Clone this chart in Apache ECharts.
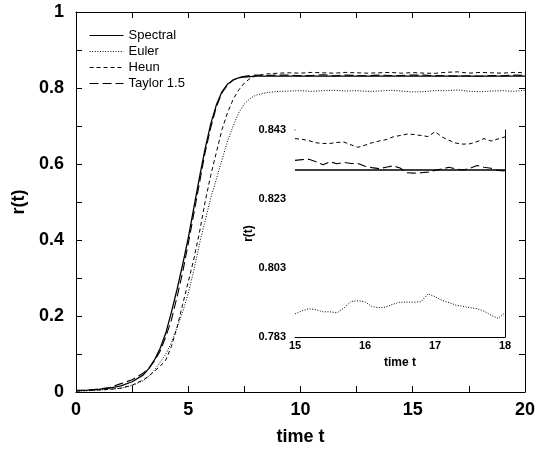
<!DOCTYPE html>
<html>
<head>
<meta charset="utf-8">
<script src="https://cdn.jsdelivr.net/npm/echarts@6/dist/echarts.min.js"></script>
<style>html,body{margin:0;padding:0;background:#fff}#c{width:538px;height:451px}</style>
</head>
<body>
<div id="c"></div>
<script>
// ---- data ----
const tMain = [0,0.5,1,1.5,2,2.5,
  3,3.25,3.5,3.75,4,4.25,4.5,4.75,5,5.25,5.5,5.75,6,6.25,6.5,6.75,7,7.25,7.5,7.75,8,
  8.5,9,9.5,10,10.5,11,11.5,12,12.5,13,13.5,14,14.5,15,15.5,16,16.5,17,17.5,18,18.5,19,19.5,20];
const spectralMain = [0.004,0.005,0.007,0.010,0.016,0.027,
  0.045,0.062,0.085,0.115,0.155,0.21,0.27,0.335,0.405,0.485,0.565,0.64,0.705,0.755,0.79,0.81,0.821,0.827,0.829,0.830,0.831,
  0.8314,0.8314,0.8314,0.8314,0.8314,0.8314,0.8314,0.8314,0.8314,0.8314,0.8314,0.8314,0.8314,0.8314,0.8314,0.8314,0.8314,0.8314,0.8314,0.8314,0.8314,0.8314,0.8314,0.8314];
const eulerMain = [0.002,0.003,0.005,0.007,0.010,0.017,
  0.030,0.042,0.058,0.078,0.100,0.130,0.170,0.210,0.260,0.320,0.390,0.450,0.510,0.560,0.610,0.660,0.700,0.735,0.758,0.772,0.781,
  0.788,0.791,0.792,0.793,0.791,0.793,0.794,0.792,0.793,0.791,0.792,0.794,0.792,0.7897,0.7903,0.7932,0.7931,0.7947,0.7915,0.7900,0.792,0.793,0.791,0.794];
const heunMain = [0.003,0.004,0.005,0.007,0.010,0.018,
  0.032,0.042,0.055,0.068,0.084,0.120,0.170,0.230,0.290,0.350,0.420,0.500,0.570,0.630,0.690,0.735,0.770,0.795,0.813,0.825,0.832,
  0.837,0.839,0.840,0.839,0.841,0.840,0.839,0.841,0.840,0.839,0.840,0.841,0.839,0.8405,0.8391,0.8386,0.8414,0.8425,0.8390,0.8410,0.840,0.839,0.841,0.840];
const taylorMain = [0.003,0.005,0.008,0.012,0.022,0.032,
  0.050,0.063,0.082,0.108,0.145,0.190,0.250,0.315,0.390,0.470,0.550,0.630,0.695,0.750,0.787,0.808,0.821,0.828,0.831,0.833,0.834,
  0.833,0.834,0.834,0.832,0.833,0.835,0.832,0.834,0.833,0.832,0.834,0.833,0.833,0.8342,0.8338,0.8325,0.8320,0.8313,0.8319,0.8311,0.833,0.832,0.834,0.833];

const tInset = [15.0,15.1,15.2,15.3,15.4,15.5,15.6,15.7,15.8,15.9,16.0,16.1,16.2,16.3,16.4,16.5,16.6,16.7,16.8,16.9,17.0,17.1,17.2,17.3,17.4,17.5,17.6,17.7,17.8,17.9,18.0];
const spectralInset = [0.8314,0.8314,0.8314,0.8314,0.8314,0.8314,0.8314,0.8314,0.8314,0.8314,0.8314,0.8314,0.8314,0.8314,0.8314,0.8314,0.8314,0.8314,0.8314,0.8314,0.8314,0.8314,0.8314,0.8314,0.8314,0.8314,0.8314,0.8314,0.8314,0.8314,0.8314];
const eulerInset = [0.7897,0.7906,0.7912,0.7909,0.7903,0.7903,0.7900,0.7914,0.7933,0.7935,0.7932,0.7918,0.7915,0.7917,0.7925,0.7931,0.7931,0.7931,0.7932,0.7955,0.7947,0.7936,0.7930,0.7922,0.7919,0.7915,0.7912,0.7905,0.7893,0.7884,0.7900];
const heunInset = [0.8405,0.8403,0.8399,0.8393,0.8391,0.8391,0.8394,0.8395,0.8387,0.8380,0.8386,0.8393,0.8398,0.8402,0.8410,0.8414,0.8418,0.8417,0.8414,0.8411,0.8425,0.8410,0.8400,0.8392,0.8389,0.8390,0.8396,0.8405,0.8398,0.8404,0.8410];
const taylorInset = [0.8342,0.8344,0.8345,0.8338,0.8329,0.8338,0.8332,0.8336,0.8333,0.8333,0.8325,0.8321,0.8318,0.8322,0.8326,0.8320,0.8306,0.8305,0.8306,0.8308,0.8313,0.8317,0.8322,0.8317,0.8314,0.8319,0.8327,0.8322,0.8319,0.8313,0.8311];

const seriesNames = ['Spectral','Euler','Heun','Taylor 1.5'];
const mainTickX = [0, 20, 5];      // min, max, interval
const mainTickY = [0, 1, 0.2];
const insetTickX = [15, 18, 1];
const insetTickY = [0.783, 0.843, 0.02];

// ---- build ----
const FONT = 'Liberation Sans, Arial, Helvetica, sans-serif';
const pair = (ts, vs) => ts.map((t, i) => [t, vs[i]]);
const styles = {
  'Spectral':   {type: 'solid', width: 1.3},
  'Euler':      {type: [1, 1.6], width: 1},
  'Heun':       {type: [4, 3], width: 1},
  'Taylor 1.5': {type: [9, 4], width: 1.1}
};
const mainData = {'Spectral': spectralMain, 'Euler': eulerMain, 'Heun': heunMain, 'Taylor 1.5': taylorMain};
const insetData = {'Spectral': spectralInset, 'Euler': eulerInset, 'Heun': heunInset, 'Taylor 1.5': taylorInset};

function axis(kind, grid, pos, tk, opts) {
  const big = grid === 0;
  const a = {
    type: 'value', gridIndex: grid, position: pos,
    min: tk[0], max: tk[1], interval: tk[2],
    axisLine: {show: true, onZero: false, lineStyle: {color: '#000', width: 1}},
    axisTick: {show: true, inside: true, length: big ? 6 : 4, lineStyle: {color: '#000'}},
    minorTick: {show: true, splitNumber: 2, length: big ? 6 : 4, lineStyle: {color: '#000'}},
    splitLine: {show: false},
    axisLabel: {show: false}
  };
  return Object.assign(a, opts || {});
}

const series = [];
seriesNames.forEach(n => {
  series.push({name: n, type: 'line', xAxisIndex: 0, yAxisIndex: 0, data: pair(tMain, mainData[n]),
    symbol: 'none', showSymbol: false, lineStyle: Object.assign({color: '#000'}, styles[n]), itemStyle: {color: '#000'}, z: 3});
});
seriesNames.forEach(n => {
  series.push({name: n, type: 'line', xAxisIndex: 2, yAxisIndex: 2, data: pair(tInset, insetData[n]),
    symbol: 'none', showSymbol: false, lineStyle: Object.assign({color: '#000'}, styles[n], n === 'Spectral' ? {width: 1.6} : {}), itemStyle: {color: '#000'}, z: 5});
});

const chart = echarts.init(document.getElementById('c'), null, {renderer: 'canvas'});
chart.setOption({
  animation: false,
  backgroundColor: '#fff',
  textStyle: {fontFamily: FONT},
  grid: [
    {left: 76, top: 12, width: 452, height: 380},
    {left: 295, top: 130, width: 210, height: 207, show: true, backgroundColor: '#fff', borderWidth: 0, z: 4}
  ],
  legend: {
    data: seriesNames, orient: 'vertical', left: 84, top: 24,
    itemWidth: 34, itemHeight: 14, itemGap: 3,
    textStyle: {fontFamily: FONT, fontSize: 13, color: '#000'},
    itemStyle: {opacity: 0},
    lineStyle: {width: 1.1}
  },
  xAxis: [
    axis('x', 0, 'bottom', mainTickX, {
      axisLabel: {show: true, fontFamily: FONT, fontSize: 18, fontWeight: 'bold', color: '#000', margin: 9},
      name: 'time t', nameLocation: 'middle', nameGap: 36,
      nameTextStyle: {fontFamily: FONT, fontSize: 18, fontWeight: 'bold', color: '#000'}
    }),
    axis('x', 0, 'top', mainTickX),
    axis('x', 1, 'bottom', insetTickX, {
      axisLabel: {show: true, fontFamily: FONT, fontSize: 11, fontWeight: 'bold', color: '#000', margin: 3},
      name: 'time t', nameLocation: 'middle', nameGap: 20,
      nameTextStyle: {fontFamily: FONT, fontSize: 12, fontWeight: 'bold', color: '#000'}
    }),
    axis('x', 1, 'top', insetTickX)
  ],
  yAxis: [
    axis('y', 0, 'left', mainTickY, {
      axisLabel: {show: true, fontFamily: FONT, fontSize: 18, fontWeight: 'bold', color: '#000', margin: 12},
      name: 'r(t)', nameLocation: 'middle', nameGap: 41,
      nameTextStyle: {fontFamily: FONT, fontSize: 18, fontWeight: 'bold', color: '#000'}
    }),
    axis('y', 0, 'right', mainTickY),
    axis('y', 1, 'left', insetTickY, {
      axisLabel: {show: true, fontFamily: FONT, fontSize: 11, fontWeight: 'bold', color: '#000', margin: 9,
        formatter: v => v.toFixed(3)},
      name: 'r(t)', nameLocation: 'middle', nameGap: 40,
      nameTextStyle: {fontFamily: FONT, fontSize: 12, fontWeight: 'bold', color: '#000'}
    }),
    axis('y', 1, 'right', insetTickY)
  ],
  series: series
});
</script>
</body>
</html>
